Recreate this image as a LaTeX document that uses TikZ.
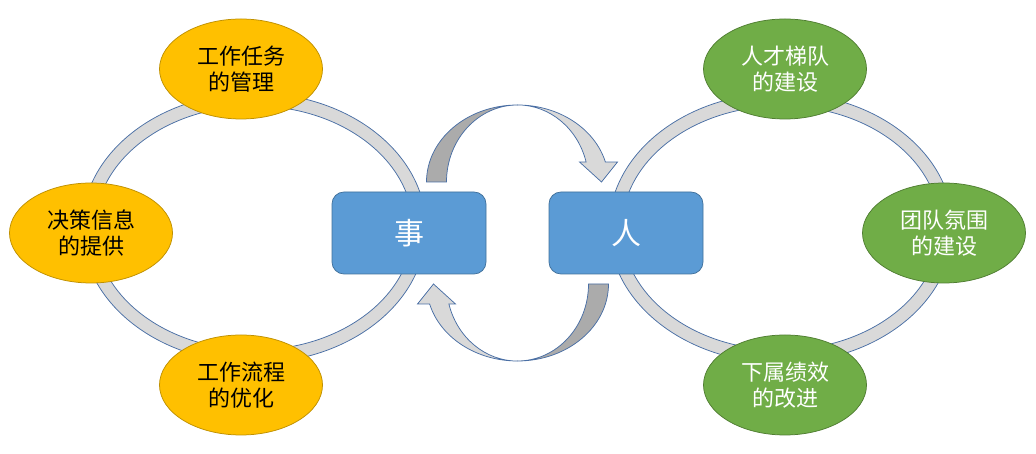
\documentclass[tikz,border=0pt]{standalone}
\usepackage{fontspec}
\newfontfamily\cjk{Noto Sans CJK SC}
\usetikzlibrary{shapes.geometric}

\definecolor{ringfill}{HTML}{D9D9D9}
\definecolor{ringline}{HTML}{4A6FA5}
\definecolor{turnshade}{HTML}{ABABAB}
\definecolor{boxfill}{HTML}{5B9BD5}
\definecolor{boxline}{HTML}{41719C}
\definecolor{taskfill}{HTML}{FFC000}
\definecolor{taskline}{HTML}{BF9000}
\definecolor{peoplefill}{HTML}{70AD47}
\definecolor{peopleline}{HTML}{507E32}

\tikzset{
	ring/.style={fill=ringfill, draw=ringline, line width=0.75pt, even odd rule},
	turnlight/.style={fill=ringfill, draw=ringline, line width=0.75pt},
	turndark/.style={fill=turnshade, draw=ringline, line width=0.75pt},
	goal/.style={ellipse, minimum width=163pt, minimum height=100pt, inner sep=0pt, align=center, line width=0.75pt, font=\cjk\fontsize{22}{26}\selectfont},
	taskgoal/.style={goal, fill=taskfill, draw=taskline, text=black},
	peoplegoal/.style={goal, fill=peoplefill, draw=peopleline, text=white},
	corebox/.style={rectangle, rounded corners=12pt, minimum width=154pt, minimum height=82pt, fill=boxfill, draw=boxline, line width=0.75pt, text=white, font=\cjk\fontsize{30}{36}\selectfont}
}

\begin{document}
\begin{tikzpicture}[x=1pt,y=1pt]
	\useasboundingbox (0,0) rectangle (1036,454);

	\foreach \cx in {254,781}
		\path[ring] (\cx,226) ellipse [x radius=172, y radius=135] (\cx,226) ellipse [x radius=159, y radius=122];

	\node[corebox] (shi) at (409,221) {事};
	\node[corebox] (ren) at (626,221) {人};
	\path (shi.east) -- (ren.west) coordinate[pos=0.5] (mid);

	\foreach \r in {0,180}
	{
		\begin{scope}[shift={(mid)}, rotate=\r]
			\path[turndark] (-91,51) arc[start angle=180, end angle=90, x radius=91, y radius=77]
				arc[start angle=90, end angle=180, x radius=71, y radius=77] -- cycle;
			\path[turnlight] (0,128) arc[start angle=90, end angle=15, x radius=91, y radius=77]
				-- (100,71) -- (84,51) -- (62,71) -- (68.6,71)
				arc[start angle=15, end angle=90, x radius=71, y radius=77] -- cycle;
		\end{scope}
	}

	\node[taskgoal] (gt1) at (241,385) {工作任务\\的管理};
	\node[taskgoal] (gt2) at (91,221) {决策信息\\的提供};
	\node[taskgoal] (gt3) at (241,69) {工作流程\\的优化};

	\node[peoplegoal] (rt1) at (785,385) {人才梯队\\的建设};
	\node[peoplegoal] (rt2) at (944,221) {团队氛围\\的建设};
	\node[peoplegoal] (rt3) at (785,69) {下属绩效\\的改进};
\end{tikzpicture}
\end{document}
